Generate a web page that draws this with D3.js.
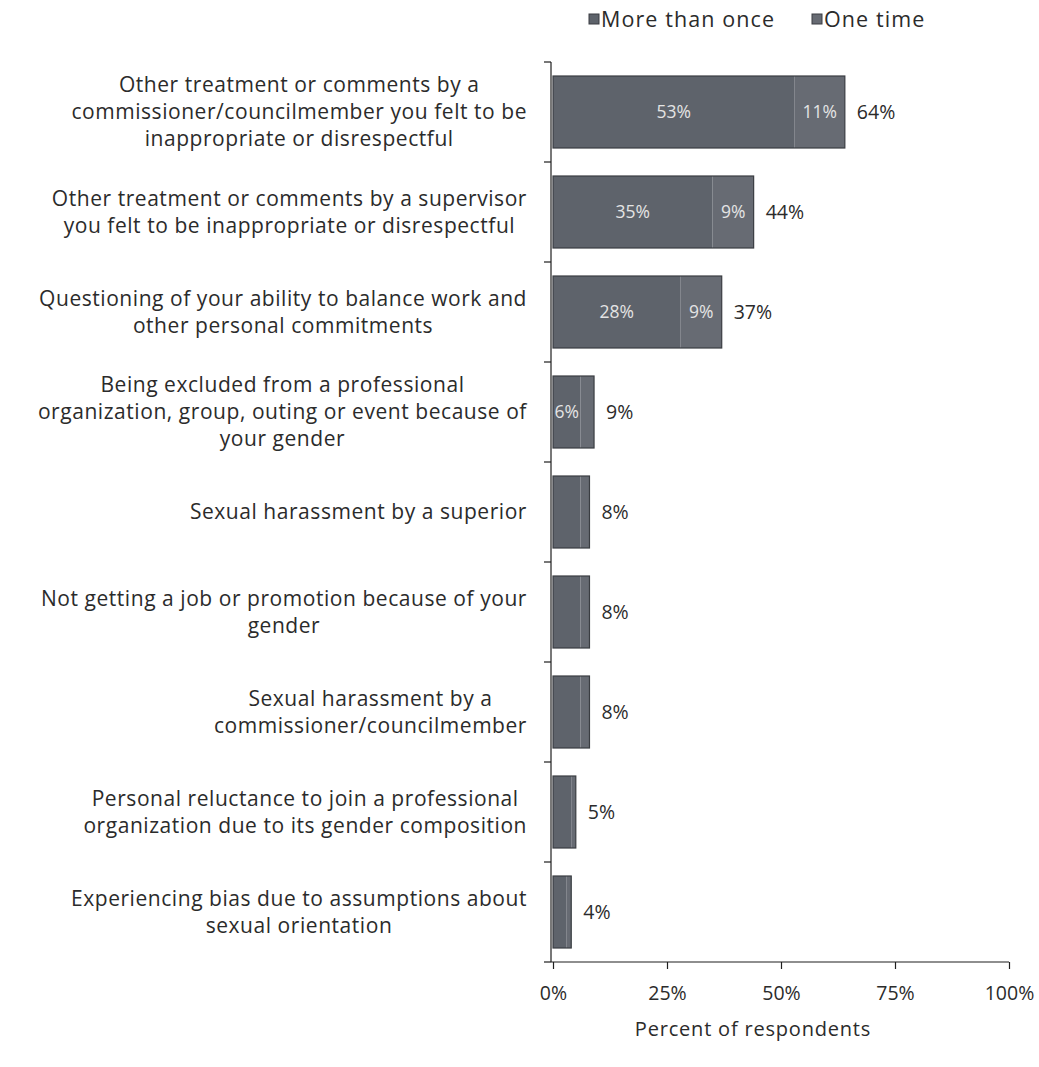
<!DOCTYPE html>
<html>
<head>
<meta charset="utf-8">
<script src="https://cdn.jsdelivr.net/npm/d3@7"></script>
<style>
  html, body { margin: 0; padding: 0; background: #ffffff; }
  svg { display: block; font-family: "Open Sans", "Noto Sans", sans-serif; }
</style>
</head>
<body>
<svg id="chart" width="1039" height="1067"></svg>
<script>
// Survey items, each wrapped onto the lines it is shown with
const categories = [
  ["Other treatment or comments by a", "commissioner/councilmember you felt to be", "inappropriate or disrespectful"],
  ["Other treatment or comments by a supervisor", "you felt to be inappropriate or disrespectful"],
  ["Questioning of your ability to balance work and", "other personal commitments"],
  ["Being excluded from a professional", "organization, group, outing or event because of", "your gender"],
  ["Sexual harassment by a superior"],
  ["Not getting a job or promotion because of your", "gender"],
  ["Sexual harassment by a", "commissioner/councilmember"],
  ["Personal reluctance to join a professional", "organization due to its gender composition"],
  ["Experiencing bias due to assumptions about", "sexual orientation"]
];
const seriesNames = ["More than once", "One time"];
const moreThanOnce = [53, 35, 28, 6, 6, 6, 6, 4, 3];
const oneTime      = [11, 9, 9, 3, 2, 2, 2, 1, 1];
const totals       = [64, 44, 37, 9, 8, 8, 8, 5, 4];
const insideLabels = [["53%", "11%"], ["35%", "9%"], ["28%", "9%"], ["6%", ""], ["", ""], ["", ""], ["", ""], ["", ""], ["", ""]];
const xTicks = [0, 25, 50, 75, 100];

const colors = ["#5e636b", "#676b73"];
const textColor = "#2b2b2b";

(function () {
const svg = d3.select("#chart");
const plotLeft = 553, plotRight = 1009, plotTop = 62, plotBottom = 962;

const ids = categories.map((c, i) => "c" + i);
const x = d3.scaleLinear().domain([0, 100]).range([plotLeft, plotRight]);
const y = d3.scaleBand().domain(ids).range([plotTop, plotBottom]).paddingInner(0.28).paddingOuter(0.14);

const rows = ids.map((id, i) => ({ id, i, values: [moreThanOnce[i], oneTime[i]] }));
const stacked = d3.stack().keys([0, 1]).value((d, k) => d.values[k])(rows);

// bars
svg.append("g").selectAll("g")
  .data(stacked)
  .join("g")
  .attr("fill", (d, k) => colors[k])
  .selectAll("rect")
  .data(d => d)
  .join("rect")
  .attr("x", d => x(d[0]))
  .attr("y", d => y(d.data.id))
  .attr("width", d => x(d[1]) - x(d[0]))
  .attr("height", y.bandwidth());

// bar outlines
svg.append("g").selectAll("rect")
  .data(rows)
  .join("rect")
  .attr("x", x(0))
  .attr("y", d => y(d.id))
  .attr("width", d => x(totals[d.i]) - x(0))
  .attr("height", y.bandwidth())
  .attr("fill", "none")
  .attr("stroke", "#3a3d42")
  .attr("stroke-width", 1.2);

// segment labels
stacked.forEach((layer, k) => {
  svg.append("g").selectAll("text")
    .data(layer)
    .join("text")
    .attr("x", d => (x(d[0]) + x(d[1])) / 2)
    .attr("y", d => y(d.data.id) + y.bandwidth() / 2)
    .attr("dy", "0.35em")
    .attr("text-anchor", "middle")
    .attr("fill", "#e4e4e4")
    .attr("font-size", 17.5)
    .text(d => insideLabels[d.data.i][k]);
});

// total labels
svg.append("g").selectAll("text")
  .data(rows)
  .join("text")
  .attr("x", d => x(totals[d.i]) + 12)
  .attr("y", d => y(d.id) + y.bandwidth() / 2)
  .attr("dy", "0.35em")
  .attr("fill", textColor)
  .attr("font-size", 19.5)
  .text(d => totals[d.i] + "%");

// y axis: line plus ticks at the band boundaries
const yAxis = svg.append("g").attr("stroke", "#1e1e1e").attr("stroke-width", 1.2);
yAxis.append("line").attr("x1", plotLeft - 2).attr("x2", plotLeft - 2).attr("y1", plotTop).attr("y2", plotBottom);
const bounds = ids.map(id => y(id) - y.step() * y.paddingInner() / 2).concat([plotBottom]);
bounds[0] = plotTop;
yAxis.selectAll("line.tick")
  .data(bounds)
  .join("line")
  .attr("class", "tick")
  .attr("x1", plotLeft - 9).attr("x2", plotLeft - 2)
  .attr("y1", d => d).attr("y2", d => d);

// category labels, lines centred within a right-aligned block
const labelLineHeight = 27;
const labelRight = 527;
const labels = svg.append("g").attr("fill", textColor).attr("font-size", 21).attr("letter-spacing", 0.55);
categories.forEach((lines, i) => {
  const g = labels.append("g");
  const cy = y(ids[i]) + y.bandwidth() / 2;
  const t = g.selectAll("text").data(lines).join("text")
    .attr("text-anchor", "middle")
    .attr("y", (d, j) => cy + (j - (lines.length - 1) / 2) * labelLineHeight)
    .attr("dy", "0.35em")
    .text(d => d);
  const w = d3.max(t.nodes(), n => n.getComputedTextLength());
  t.attr("x", labelRight - w / 2);
});

// x axis
const xAxis = svg.append("g")
  .attr("transform", `translate(0,${plotBottom})`)
  .call(d3.axisBottom(x).tickValues(xTicks).tickFormat(d => d + "%").tickSize(7).tickSizeOuter(0));
xAxis.select(".domain").attr("stroke", "#1e1e1e").attr("stroke-width", 1.2).attr("d", `M${plotLeft - 2},0H${plotRight}`);
xAxis.selectAll(".tick line").attr("stroke", "#1e1e1e").attr("stroke-width", 1.2);
xAxis.selectAll(".tick text")
  .attr("fill", textColor)
  .attr("font-size", 19.5)
  .attr("font-family", "\"Open Sans\", sans-serif")
  .attr("dy", "1.45em");

svg.append("text")
  .attr("x", (plotLeft + plotRight) / 2 - 28)
  .attr("y", 1036)
  .attr("text-anchor", "middle")
  .attr("fill", textColor)
  .attr("font-size", 20)
  .attr("letter-spacing", 0.8)
  .text("Percent of respondents");

// legend
const legend = svg.append("g").attr("font-size", 21.5).attr("fill", textColor).attr("letter-spacing", 1.1);
const legendX = [589, 812];
seriesNames.forEach((name, k) => {
  const g = legend.append("g").attr("transform", `translate(${legendX[k]},19)`);
  g.append("rect").attr("x", 0).attr("y", -5).attr("width", 10).attr("height", 10)
    .attr("fill", colors[k]).attr("stroke", "#3a3d42").attr("stroke-width", 1);
  g.append("text").attr("x", 12).attr("dy", "0.35em").text(name);
});
})();
</script>
</body>
</html>
